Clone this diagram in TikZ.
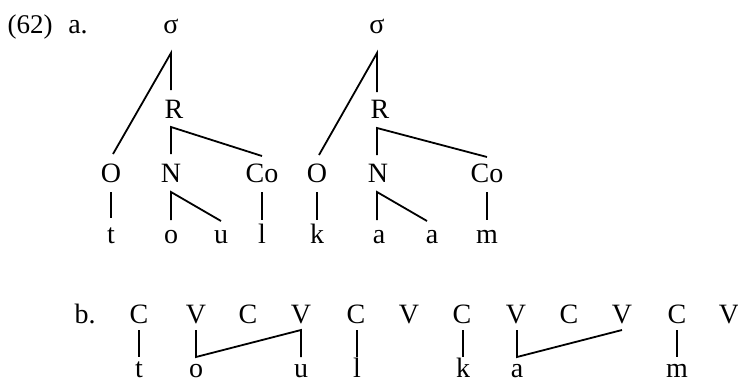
\documentclass[tikz,border=0pt]{standalone}
\usepackage{fontspec}
\setmainfont{Liberation Serif}
\begin{document}
\begin{tikzpicture}[x=1pt,y=-1pt,
  lab/.style={anchor=base,inner sep=0pt,font=\fontsize{28}{30}\selectfont},
  ln/.style={line width=1.8pt,black}]
\useasboundingbox (0,0) rectangle (738,381);
% heading
\node[lab,font=\fontsize{27}{30}\selectfont] (ex) at (30,33) {(62)};
\node[lab] (pa) at (78,33) {a.};
% tree 1
\node[lab] (s1) at (171,33) {σ};
\node[lab] (R1) at (174,118) {R};
\node[lab] (O1) at (111,182) {O};
\node[lab] (N1) at (171,182) {N};
\node[lab] (Co1) at (262,182) {Co};
\node[lab] (t1) at (111,243) {t};
\node[lab] (o1) at (171,243) {o};
\node[lab] (u1) at (221,243) {u};
\node[lab] (l1) at (262,243) {l};
% tree 2
\node[lab] (s2) at (377,33) {σ};
\node[lab] (R2) at (380,118) {R};
\node[lab] (O2) at (317,182) {O};
\node[lab] (N2) at (378,182) {N};
\node[lab] (Co2) at (487,182) {Co};
\node[lab] (k1) at (317,243) {k};
\node[lab] (a1) at (379,243) {a};
\node[lab] (a2) at (432,243) {a};
\node[lab] (m1) at (487,243) {m};
% tree 1 lines
\draw[ln] ([xshift=2pt,yshift=28pt]O1.base) -- ([yshift=-20pt]s1.base) -- ([xshift=-3pt,yshift=28pt]R1.base);
\draw[ln] ([yshift=28pt]N1.base) -- ([xshift=-3pt,yshift=-9pt]R1.base) -- ([yshift=26pt]Co1.base);
\draw[ln] ([yshift=-10pt]O1.base) -- ([yshift=25pt]t1.base);
\draw[ln] ([yshift=23pt]o1.base) -- ([yshift=-10pt]N1.base) -- ([yshift=22pt]u1.base);
\draw[ln] ([yshift=-10pt]Co1.base) -- ([yshift=23pt]l1.base);
% tree 2 lines
\draw[ln] ([xshift=2pt,yshift=27pt]O2.base) -- ([yshift=-20pt]s2.base) -- ([xshift=-3pt,yshift=26pt]R2.base);
\draw[ln] ([xshift=-1pt,yshift=27pt]N2.base) -- ([xshift=-3pt,yshift=-10pt]R2.base) -- ([yshift=25pt]Co2.base);
\draw[ln] ([yshift=-10pt]O2.base) -- ([yshift=23pt]k1.base);
\draw[ln] ([xshift=-2pt,yshift=23pt]a1.base) -- ([xshift=-1pt,yshift=-10pt]N2.base) -- ([xshift=-5pt,yshift=22pt]a2.base);
\draw[ln] ([yshift=-10pt]Co2.base) -- ([yshift=23pt]m1.base);
% part b
\node[lab] (pb) at (85,323) {b.};
\node[lab] (C1) at (139,323) {C};
\node[lab] (V2) at (196,323) {V};
\node[lab] (C3) at (248,323) {C};
\node[lab] (V4) at (301,323) {V};
\node[lab] (C5) at (356,323) {C};
\node[lab] (V6) at (409,323) {V};
\node[lab] (C7) at (462,323) {C};
\node[lab] (V8) at (516,323) {V};
\node[lab] (C9) at (569,323) {C};
\node[lab] (V10) at (622,323) {V};
\node[lab] (C11) at (677,323) {C};
\node[lab] (V12) at (729,323) {V};
\node[lab] (bt) at (139,377) {t};
\node[lab] (bo) at (196,377) {o};
\node[lab] (bu) at (301,377) {u};
\node[lab] (bl) at (357,377) {l};
\node[lab] (bk) at (463,377) {k};
\node[lab] (ba) at (517,377) {a};
\node[lab] (bm) at (677,377) {m};
\draw[ln] ([yshift=-7pt]C1.base) -- ([yshift=20pt]bt.base);
\draw[ln] ([yshift=-7pt]V2.base) -- ([yshift=20pt]bo.base) -- ([yshift=-7pt]V4.base) -- ([yshift=20pt]bu.base);
\draw[ln] ([xshift=1pt,yshift=-7pt]C5.base) -- ([yshift=20pt]bl.base);
\draw[ln] ([xshift=1pt,yshift=-7pt]C7.base) -- ([yshift=20pt]bk.base);
\draw[ln] ([xshift=1pt,yshift=-7pt]V8.base) -- ([yshift=20pt]ba.base) -- ([yshift=-7pt]V10.base);
\draw[ln] ([yshift=-7pt]C11.base) -- ([yshift=20pt]bm.base);
\end{tikzpicture}
\end{document}
